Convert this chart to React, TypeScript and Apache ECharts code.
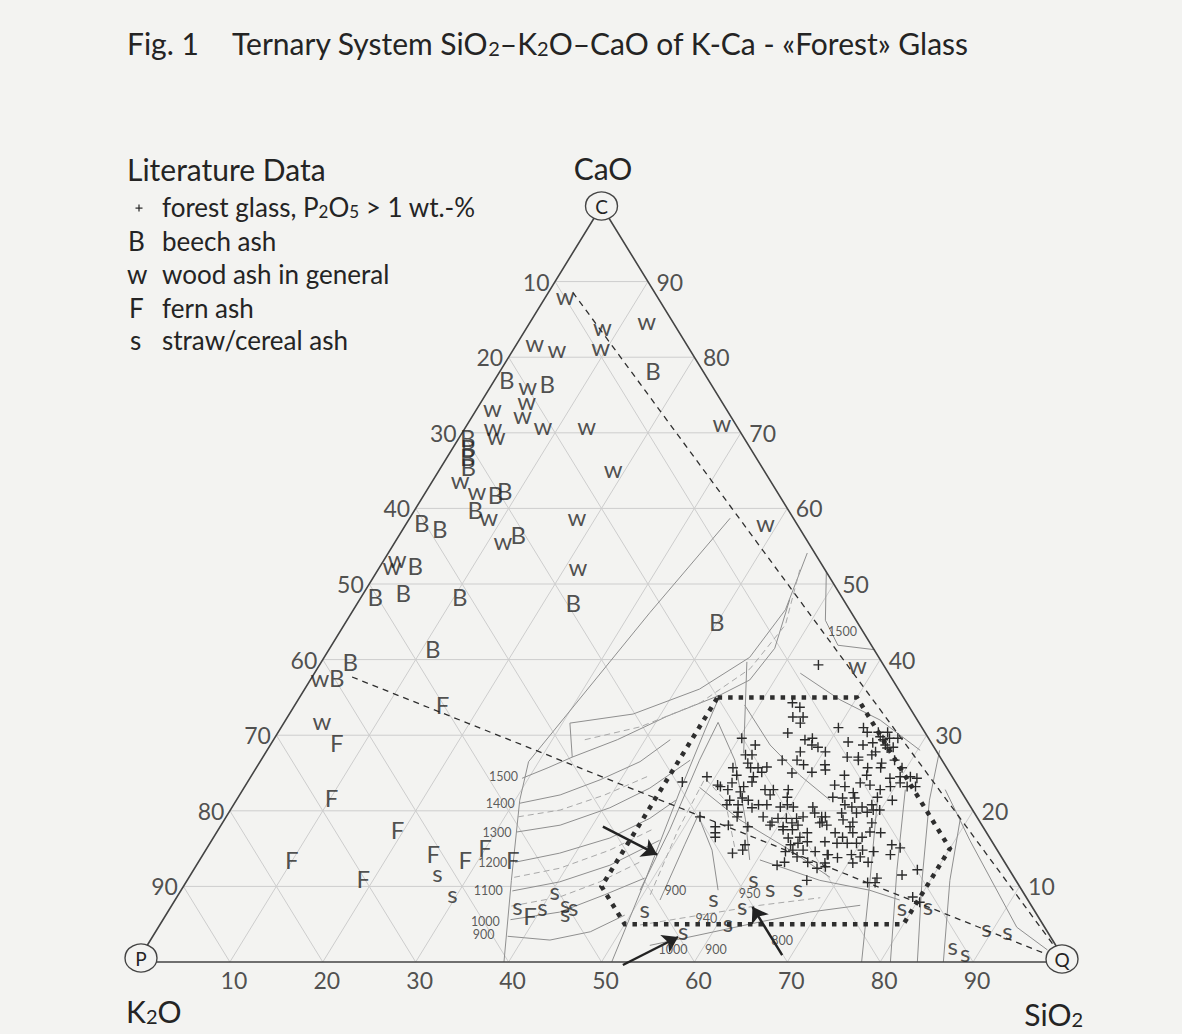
import React, { useEffect, useRef } from "react";
import * as echarts from "echarts";

// ---------- data (compositions as [SiO2, CaO] wt.-%, K2O = 100 - SiO2 - CaO) ----------
const GRID_STEPS = [10, 20, 30, 40, 50, 60, 70, 80, 90];
const TICK_VALUES = [10, 20, 30, 40, 50, 60, 70, 80, 90];

const FOREST_GLASS = [
  [53.4, 34.3], [54.5, 33.7], [54.4, 32.4], [55.5, 32.4], [55.6, 31.6], [54.9, 30.3], [50.3, 29.6], [57.2, 29.4], [57.9, 29.6], [58.3, 28.7],
  [59.1, 28.4], [52.2, 28.7], [57.5, 27.8], [60.2, 27.8], [51.8, 27.4], [52.5, 27.4], [56.1, 26.7], [57.7, 26.7], [52.6, 26.3], [53.2, 25.7],
  [54.0, 25.7], [54.9, 25.8], [58.7, 26.1], [61.0, 26.1], [61.4, 25.4], [51.3, 25.7], [52.2, 24.7], [54.7, 25.1], [54.1, 24.5], [58.0, 25.0],
  [60.1, 25.1], [49.1, 24.5], [52.2, 23.7], [54.3, 23.8], [51.2, 23.2], [52.2, 22.8], [53.7, 23.2], [53.7, 22.5], [56.2, 22.8], [57.1, 22.8],
  [58.7, 22.8], [54.3, 21.7], [55.1, 21.4], [57.1, 22.1], [59.1, 21.8], [53.1, 21.4], [53.1, 20.8], [54.3, 20.8], [56.0, 20.4], [56.5, 20.8],
  [57.4, 20.8], [59.0, 20.5], [59.6, 20.8], [60.4, 20.5], [62.5, 20.5], [54.8, 19.8], [55.0, 19.2], [57.8, 19.2], [59.1, 18.5], [59.5, 19.0],
  [60.4, 19.0], [61.5, 19.0], [62.1, 19.2], [63.1, 19.7], [64.5, 19.2], [54.6, 18.1], [56.8, 17.9], [59.1, 18.1], [60.6, 17.9], [61.3, 18.4],
  [62.1, 18.1], [53.3, 17.9], [53.7, 17.1], [54.0, 16.5], [60.8, 17.5], [61.8, 17.5], [64.3, 18.4], [65.2, 18.1], [61.9, 16.4], [63.1, 16.5],
  [63.6, 17.1], [57.7, 15.5], [57.8, 14.8], [62.6, 15.5], [63.3, 15.7], [64.2, 15.9], [62.5, 14.6], [63.2, 14.8], [64.3, 14.8], [65.7, 14.6],
  [56.9, 14.4], [64.1, 13.9], [65.6, 13.2], [67.2, 14.2], [63.1, 13.2], [62.5, 12.8], [67.0, 12.4], [67.8, 12.6], [66.7, 10.8],
  [53.7, 39.3], [46.8, 23.8], [51.0, 19.2], [50.8, 23.4],
  [60.0, 31.0], [62.7, 31.0], [63.4, 30.4], [64.6, 30.4], [65.6, 30.4], [65.1, 29.8], [65.6, 29.4], [66.2, 29.6], [67.1, 29.6], [62.0, 29.1],
  [63.8, 28.7], [64.7, 29.0], [66.2, 28.7], [66.6, 28.3], [67.2, 28.4], [65.6, 27.8], [62.9, 27.1], [64.1, 27.1], [64.3, 26.7], [65.4, 27.4],
  [67.0, 26.3], [68.2, 26.7], [65.8, 25.7], [67.2, 25.7], [69.5, 25.7], [66.2, 24.7], [63.8, 24.7], [68.9, 24.3], [69.9, 24.5], [71.0, 24.5],
  [71.8, 24.3], [63.4, 23.4], [64.6, 23.2], [66.0, 23.7], [67.2, 23.4], [69.5, 23.2], [70.3, 23.7], [71.3, 23.2], [72.2, 23.2], [65.9, 22.4],
  [68.6, 22.8], [64.0, 21.8], [65.1, 21.7], [66.4, 21.7], [68.8, 21.8], [70.6, 21.4], [65.8, 20.8], [66.7, 20.5], [67.8, 20.5], [68.7, 20.8],
  [69.9, 20.1], [66.0, 19.7], [67.6, 19.7], [68.7, 19.8], [69.2, 20.1], [64.1, 19.2], [64.5, 18.5], [66.6, 18.8], [67.8, 18.5], [69.9, 18.4],
  [67.8, 17.9], [66.6, 17.1], [67.7, 16.5], [68.5, 17.1], [69.8, 16.5], [70.3, 17.2], [71.5, 17.1], [66.1, 15.9], [67.5, 15.7], [68.6, 15.7],
  [69.6, 15.7], [70.7, 14.8], [72.0, 14.6], [73.5, 15.5], [74.6, 15.1], [74.0, 14.2], [67.3, 14.2], [68.5, 13.8], [69.8, 14.2], [70.9, 13.9],
  [70.5, 13.1], [72.1, 13.2], [77.9, 12.2], [76.6, 11.5], [74.1, 11.1], [73.4, 10.5], [74.2, 10.5], [67.5, 13.1], [79.2, 8.6], [80.3, 7.9],
];

const BEECH_ASH = [
  [16.4, 78.3], [1.3, 77.0], [5.9, 76.5], [0.9, 69.4], [1.6, 68.1], [2.2, 66.8], [2.9, 65.5], [7.7, 61.8], [8.4, 62.4], [6.5, 59.8],
  [1.6, 58.1], [3.9, 57.4], [12.8, 56.5], [3.7, 52.5], [1.5, 48.3], [4.2, 48.9], [10.6, 48.3], [23.2, 47.5], [39.9, 45.0], [11.1, 41.5],
  [3.1, 39.7], [2.7, 37.6],
];

const WOOD_ASH = [
  [2.0, 88.2], [8.1, 84.0], [12.4, 84.9], [1.8, 82.0], [4.6, 81.2], [9.2, 81.4], [3.9, 76.3], [4.8, 74.3], [1.6, 73.3], [5.3, 72.4],
  [8.2, 71.0], [12.9, 71.0], [2.9, 70.8], [3.8, 69.7], [27.3, 71.3], [18.6, 65.3], [2.9, 63.8], [5.4, 62.4], [8.4, 58.9], [11.5, 55.8],
  [17.9, 58.9], [1.3, 53.4], [1.2, 52.5], [21.3, 52.3], [38.6, 58.1], [57.9, 39.3], [0.9, 37.6], [3.9, 32.0],
];

const FERN_ASH = [
  [15.9, 34.0], [7.0, 29.0], [10.1, 21.7], [19.3, 17.5], [9.9, 13.5], [18.8, 11.1], [24.7, 14.4], [28.6, 13.5], [29.9, 15.1], [33.7, 13.5],
  [39.2, 6.2],
];

const STRAW_ASH = [
  [26.4, 11.9], [29.4, 9.1], [37.2, 7.5], [40.0, 7.3], [40.2, 9.5], [42.2, 7.8], [42.8, 6.6], [43.3, 7.3], [51.1, 7.1], [56.7, 4.2],
  [57.8, 8.5], [61.4, 7.5], [61.0, 5.2], [60.8, 11.1], [63.2, 9.9], [66.2, 9.9], [78.7, 7.3], [81.4, 7.5], [89.2, 4.5], [91.6, 4.2],
  [86.7, 2.2], [88.5, 1.3],
];

// mixing lines and the glass composition field
const MIXING_LINE_WOOD = [[2.6, 88.6], [100, 0]];
const MIXING_LINE_FERN = [[4.3, 37.7], [100, 0]];
const GLASS_FIELD = [[45, 35], [60, 35], [80, 15], [80, 5], [50, 5], [45, 10], [45, 35]];
const ARROWS = [
  [[41.2, 17.9], [48.9, 14.2]],
  [[52.5, -0.4], [56.6, 3.3]],
  [[69.0, 0.9], [62.6, 7.3]],
];

// liquidus / phase boundaries (approximate)
const BOUNDARY_A = [[39.5, 0], [34.9, 10.8], [30.5, 21.4], [28.9, 26.5]];
const BOUNDARY_B = [[28.9, 26.5], [32.1, 46.2], [34.5, 58.7]];
const TONGUE_UPPER = [[30.8, 31.6], [37.0, 32.8], [42.5, 36.1], [45.8, 40.3], [46.5, 46.6], [45.1, 54.1]];
const TONGUE_LOWER = [[33.3, 27.1], [37.0, 29.4], [40.8, 32.5], [45.1, 35.3], [47.3, 37.3], [47.9, 41.5], [46.3, 47.9]];
const TONGUE_STEM = [[30.8, 31.6], [33.3, 27.1]];
const TONGUE_MID = [[33.5, 29.4], [38.6, 31.1], [43.5, 34.3], [46.6, 38.8], [47.5, 44.6], [45.4, 51.9]];
const EDGE_1500 = [[48.4, 51.6], [51.5, 45.2], [54.5, 41.9], [58.8, 41.3]];
const ISO_1500 = [[29.3, 24.3], [31.4, 25.7], [33.3, 27.1]];
const ISO_1400 = [[30.7, 21.0], [34.5, 22.1], [37.8, 24.1], [40.9, 26.5], [42.7, 29.4]];
const ISO_1300 = [[32.3, 17.2], [36.5, 18.1], [40.7, 20.4], [43.7, 23.0], [46.2, 26.7]];
const ISO_1200 = [[34.1, 13.2], [38.3, 14.4], [42.7, 16.4], [45.7, 19.0], [47.3, 21.4]];
const ISO_1100 = [[35.7, 9.4], [40.2, 10.6], [44.5, 12.8], [48.2, 16.1]];
const ISO_1000 = [[37.4, 5.6], [42.2, 6.6], [45.9, 8.9], [49.1, 11.1]];
const ISO_900 = [[38.2, 3.4], [43.0, 2.9], [46.8, 4.0], [49.4, 6.2]];
const ISO_D1 = [[31.4, 19.2], [35.5, 20.1], [39.3, 22.1], [42.9, 24.7]];
const ISO_D2 = [[35.0, 11.2], [39.3, 12.4], [43.5, 14.8], [46.9, 17.7]];
const ISO_D3 = [[36.6, 7.4], [41.2, 8.6], [44.5, 10.6], [47.5, 13.2]];
const CHEVRON_0 = [[51.1, 0], [49.3, 10.8], [47.1, 22.8], [45.8, 30.7], [45.2, 34.7]];
const CHEVRON_1 = [[49.4, 9.5], [48.6, 17.5], [47.2, 26.7], [46.7, 31.7], [51.0, 26.7], [56.1, 18.8], [59.2, 13.5]];
const CHEVRON_2 = [[52.2, 8.2], [51.2, 15.5], [50.7, 19.4], [54.5, 14.8], [57.8, 9.5]];
const CHEVRON_D = [[50.8, 8.9], [49.5, 17.5], [49.0, 24.3], [52.6, 21.4], [57.0, 14.8]];
const RIDGE_V = [[45.8, 39.7], [51.5, 27.6]];
const ARC_1 = [[48.4, 34.0], [53.8, 28.7], [59.0, 24.7], [63.9, 21.4]];
const ARC_2 = [[49.0, 23.1], [55.5, 18.8], [62.9, 14.8], [69.0, 11.2]];
const ARC_3 = [[52.3, 38.2], [58.3, 34.7], [64.0, 32.0], [70.3, 28.0]];
const ARC_4 = [[60.3, 13.5], [68.1, 10.8], [74.1, 9.5], [78.0, 8.2]];
const LOW_1 = [[54.1, 2.2], [58.8, 3.6], [64.4, 5.3], [69.1, 6.6], [74.1, 7.5]];
const LOW_D = [[51.7, 4.9], [57.5, 6.2], [63.3, 7.5], [69.3, 8.5]];
const SILICA_1 = [[78.0, 0], [73.5, 10.8], [69.0, 21.4]];
const SILICA_2 = [[81.1, 0], [75.7, 12.2], [71.3, 22.8]];
const SILICA_3 = [[84.0, 0], [79.1, 10.8], [74.6, 21.4], [72.4, 28.0]];
const SILICA_4 = [[86.8, 0], [82.1, 10.8], [79.2, 18.8]];
const SILICA_5 = [[75.6, 22.8], [81.6, 16.1], [92.4, 4.6], [97.2, 1.6]];

const ISO_LABELS = ["1500", "1400", "1300", "1200", "1100", "1000", "900", "1500", "900", "950", "940", "1000", "900", "800"];
const ISO_LABEL_POS = [
  [27.2, 24.5], [28.6, 21.0], [30.2, 17.1], [31.7, 13.2], [33.1, 9.4], [34.8, 5.4], [35.5, 3.6],
  [54.1, 43.7], [53.2, 9.5], [61.4, 9.1], [58.4, 5.8], [56.9, 1.6], [61.5, 1.6], [68.0, 2.9],
];

const VERTICES = [
  { name: "P", comp: [0, 0] },
  { name: "Q", comp: [100, 0] },
  { name: "C", comp: [0, 100] },
];

// ---------- helpers ----------
const FONT = 'Lato, "Open Sans", sans-serif';
const INK = "#242424";
const BG = "#f3f3f1";
const PLUS_PATH =
  "path://M4.3,0 L5.7,0 L5.7,4.3 L10,4.3 L10,5.7 L5.7,5.7 L5.7,10 L4.3,10 L4.3,5.7 L0,5.7 L0,4.3 L4.3,4.3 Z";

const xy = (p: number[]) => [p[0] + p[1] / 2, p[1]];

function linesSeries(paths: number[][][], lineStyle: any, z = 2) {
  return {
    type: "lines",
    coordinateSystem: "cartesian2d",
    polyline: true,
    silent: true,
    clip: false,
    z,
    lineStyle: { opacity: 1, ...lineStyle },
    data: paths.map((p) => ({ coords: p.map(xy) })),
  };
}

const NO_BORDER = { textBorderWidth: 0, textBorderColor: "transparent", textShadowBlur: 0 };

function letterSeries(points: number[][], text: string, fontSize: number, z = 6) {
  return {
    type: "scatter",
    silent: true,
    clip: false,
    z,
    symbol: "circle",
    symbolSize: 2,
    itemStyle: { color: "rgba(0,0,0,0)" },
    label: { show: true, position: "inside", formatter: text, fontSize, fontFamily: FONT, color: INK, ...NO_BORDER },
    data: points.map(xy),
  };
}

function tickSeries(points: number[][], labels: number[], position: string, distance: number, offset: number[]) {
  return {
    type: "scatter",
    silent: true,
    clip: false,
    z: 6,
    symbol: "circle",
    symbolSize: 1,
    itemStyle: { color: "rgba(0,0,0,0)" },
    label: {
      show: true,
      position,
      distance,
      offset,
      fontSize: 23,
      fontFamily: FONT,
      color: INK,
      ...NO_BORDER,
      formatter: (p: any) => String(p.value[2]),
    },
    data: points.map((p, i) => [...xy(p), labels[i]]),
  };
}

function buildOption() {
  const gridPaths: number[][][] = [];
  GRID_STEPS.forEach((t) => {
    gridPaths.push([[0, t], [100 - t, t]]);
    gridPaths.push([[t, 0], [t, 100 - t]]);
    gridPaths.push([[100 - t, 0], [0, 100 - t]]);
  });

  const solidContours = [
    BOUNDARY_A, BOUNDARY_B, TONGUE_UPPER, TONGUE_LOWER, TONGUE_STEM, EDGE_1500,
    ISO_1500, ISO_1400, ISO_1300, ISO_1200, ISO_1100, ISO_1000, ISO_900,
    CHEVRON_0, CHEVRON_1, CHEVRON_2, RIDGE_V, ARC_1, ARC_2, ARC_3, ARC_4, LOW_1,
    SILICA_1, SILICA_2, SILICA_3, SILICA_4, SILICA_5,
  ];
  const dashedContours = [TONGUE_MID, ISO_D1, ISO_D2, ISO_D3, CHEVRON_D, LOW_D];

  const sub = { fontFamily: FONT, fill: INK, verticalAlign: "bottom" };
  const txt = (x: number, y: number, text: string, size: number, align = "left", rich?: any) => ({
    type: "text",
    x,
    y,
    silent: true,
    style: {
      text,
      font: `${size}px ${FONT}`,
      fill: INK,
      align,
      textAlign: align,
      verticalAlign: "middle",
      textVerticalAlign: "middle",
      rich,
    },
  });

  const legendRich = { s: { ...sub, fontSize: 17 } };
  const titleRich = { s: { ...sub, fontSize: 20 } };
  const axisRich = { s: { ...sub, fontSize: 20 } };

  return {
    animation: false,
    backgroundColor: BG,
    grid: { left: 137, right: 116, top: 206, bottom: 72 },
    xAxis: { type: "value", min: 0, max: 100, show: false },
    yAxis: { type: "value", min: 0, max: 100, show: false },
    graphic: [
      txt(127, 43, "Fig. 1", 30),
      txt(232, 43, "Ternary System SiO{s|2}–K{s|2}O–CaO of K-Ca - «Forest» Glass", 30, "left", titleRich),
      txt(127, 169, "Literature Data", 30),
      { type: "rect", silent: true, shape: { x: 135.5, y: 207.5, width: 7, height: 1.2 }, style: { fill: INK } },
      { type: "rect", silent: true, shape: { x: 138.4, y: 204.6, width: 1.2, height: 7 }, style: { fill: INK } },
      txt(162, 207, "forest glass, P{s|2}O{s|5} > 1 wt.-%", 26, "left", legendRich),
      txt(128, 241, "B", 26),
      txt(162, 241, "beech ash", 26),
      txt(127, 274, "w", 26),
      txt(162, 274, "wood ash in general", 26),
      txt(129, 308, "F", 26),
      txt(162, 308, "fern ash", 26),
      txt(130, 340, "s", 26),
      txt(162, 340, "straw/cereal ash", 26),
      txt(603, 168, "CaO", 30, "center"),
      txt(126, 1011, "K{s|2}O", 30, "left", axisRich),
      txt(1083, 1014, "SiO{s|2}", 30, "right", axisRich),
    ],
    series: [
      linesSeries(gridPaths, { color: "#cdcdcd", width: 1 }, 1),
      linesSeries(solidContours, { color: "#8f8f8f", width: 1 }, 2),
      linesSeries(dashedContours, { color: "#a9a9a9", width: 1, type: [6, 4] }, 2),
      linesSeries([[[0, 0], [100, 0], [0, 100], [0, 0]]], { color: "#444444", width: 1.6 }, 3),
      linesSeries([MIXING_LINE_WOOD, MIXING_LINE_FERN], { color: "#2e2e2e", width: 1.3, type: [6, 5] }, 4),
      linesSeries([GLASS_FIELD], { color: "#2e2e2e", width: 4.5, type: [4.5, 6] }, 4),
      {
        type: "lines",
        coordinateSystem: "cartesian2d",
        silent: true,
        clip: false,
        z: 5,
        symbol: ["none", "arrow"],
        symbolSize: [9, 15],
        lineStyle: { color: "#222", width: 2.4, opacity: 1 },
        data: ARROWS.map((a) => ({ coords: a.map(xy) })),
      },
      {
        type: "scatter",
        silent: true,
        clip: false,
        z: 5,
        symbol: "circle",
        symbolSize: 1,
        itemStyle: { color: "rgba(0,0,0,0)" },
        label: {
          show: true,
          position: "inside",
          fontSize: 12.5,
          fontFamily: FONT,
          color: "#333",
          ...NO_BORDER,
          formatter: (p: any) => ISO_LABELS[p.dataIndex],
        },
        data: ISO_LABEL_POS.map(xy),
      },
      {
        type: "scatter",
        silent: true,
        clip: false,
        z: 7,
        symbol: PLUS_PATH,
        symbolSize: 10,
        itemStyle: { color: "#2b2b2b", opacity: 1 },
        data: FOREST_GLASS.map(xy),
      },
      letterSeries(BEECH_ASH, "B", 24),
      letterSeries(WOOD_ASH, "w", 24),
      letterSeries(FERN_ASH, "F", 24),
      letterSeries(STRAW_ASH, "s", 24),
      tickSeries(TICK_VALUES.map((t) => [0, 100 - t]), TICK_VALUES, "left", 5, [0, 0]),
      tickSeries(TICK_VALUES.map((t) => [100 - t, t]), TICK_VALUES, "right", 8, [0, 0]),
      tickSeries(TICK_VALUES.map((t) => [t, 0]), TICK_VALUES, "bottom", 6, [4, 0]),
      {
        type: "scatter",
        silent: true,
        clip: false,
        z: 8,
        symbol: "circle",
        symbolSize: [32, 28],
        itemStyle: { color: BG, borderColor: "#444", borderWidth: 1.3, opacity: 1 },
        label: { show: true, position: "inside", fontSize: 19, fontFamily: FONT, color: INK, ...NO_BORDER, formatter: "{b}" },
        data: VERTICES.map((v, i) => ({
          name: v.name,
          value: xy(v.comp),
          symbolOffset: i === 0 ? [4, -4] : i === 1 ? [-4, -3] : [0, 0],
        })),
      },
    ],
  };
}

export default function App() {
  const ref = useRef<HTMLDivElement>(null);
  useEffect(() => {
    const chart = echarts.init(ref.current!, null, { renderer: "svg" });
    chart.setOption(buildOption() as any);
    return () => chart.dispose();
  }, []);
  return <div ref={ref} style={{ position: "fixed", left: 0, top: 0, width: 1182, height: 1034 }} />;
}
